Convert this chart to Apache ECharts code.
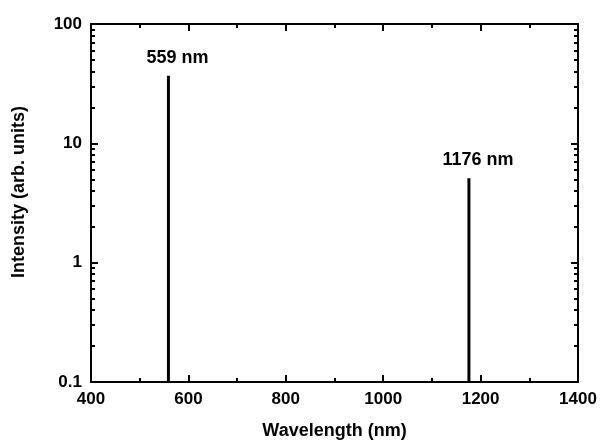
<!DOCTYPE html>
<html><head><meta charset="utf-8">
<script src="https://cdn.jsdelivr.net/npm/echarts@6/dist/echarts.min.js"></script>
<style>html,body{margin:0;padding:0;background:#fff}#c{width:600px;height:441px}</style>
</head><body><div id="c"></div>
<script>
const wavelengths = [559, 1176];
const intensities = [36.8, 5.1];
const peakLabels = ['559 nm', '1176 nm'];
const baseline = 0.1;
const xMin = 400, xMax = 1400, xInterval = 200;
const yTicks = [0.1, 1, 10, 100];
const yMinorTicks = [0.2,0.3,0.4,0.5,0.6,0.7,0.8,0.9,2,3,4,5,6,7,8,9,20,30,40,50,60,70,80,90];
const xName = 'Wavelength (nm)';
const yName = 'Intensity (arb. units)';

const FONT = "'Liberation Sans', Arial, Helvetica, sans-serif";
const lineStyle = {color:'#000', width:2};
const series = wavelengths.map((w, i) => ({
  type: 'line',
  xAxisIndex: 0, yAxisIndex: 0,
  showSymbol: true, symbol: 'circle', symbolSize: 0,
  lineStyle: {color:'#000', width:3},
  itemStyle: {color:'#000'},
  silent: true,
  animation: false,
  data: [
    {value: [w, baseline], label: {show: false}},
    {value: [w, intensities[i]], label: {
      show: true, formatter: peakLabels[i], position: 'top', offset: [9, -4],
      color: '#000', fontFamily: FONT, fontWeight: 'bold', fontSize: 18
    }}
  ]
}));

function xAx(pos, showLabel) {
  return {
    type: 'value', position: pos, min: xMin, max: xMax, interval: xInterval,
    axisLine: {show: true, onZero: false, lineStyle},
    axisTick: {show: true, inside: true, length: 7, lineStyle},
    minorTick: {show: true, splitNumber: 2, length: 4, lineStyle},
    splitLine: {show: false}, minorSplitLine: {show: false},
    axisLabel: {show: showLabel, color:'#000', fontFamily: FONT, fontWeight:'bold', fontSize: 17, margin: 9,
      formatter: v => String(v)},
    name: showLabel ? xName : '', nameLocation: 'middle', nameGap: 40,
    nameTextStyle: {color:'#000', fontFamily: FONT, fontWeight:'bold', fontSize: 18}
  };
}
function yAx(pos, minor, showLabel) {
  return {
    type: 'log', logBase: 10, position: pos, min: 0.1, max: 100,
    axisLine: {show: !minor, onZero: false, lineStyle},
    axisTick: minor ? {show: true, inside: true, length: 4, lineStyle, customValues: yMinorTicks}
                    : {show: true, inside: true, length: 7, lineStyle, customValues: yTicks},
    splitLine: {show: false},
    axisLabel: {show: showLabel, customValues: yTicks, color:'#000', fontFamily: FONT, fontWeight:'bold', fontSize: 17, margin: 9,
      formatter: v => String(+(+v).toPrecision(3))},
    name: showLabel ? yName : '', nameLocation: 'middle', nameGap: 63, nameRotate: 90,
    nameTextStyle: {color:'#000', fontFamily: FONT, fontWeight:'bold', fontSize: 18, padding: [0,0,0,22]}
  };
}

const chart = echarts.init(document.getElementById('c'), null, {renderer: 'canvas'});
chart.setOption({
  backgroundColor: '#fff',
  animation: false,
  grid: {left: 91, right: 22, top: 24, bottom: 59, containLabel: false, outerBoundsMode: 'none'},
  xAxis: [xAx('bottom', true), xAx('top', false)],
  yAxis: [yAx('left', false, true), yAx('left', true, false), yAx('right', false, false), yAx('right', true, false)],
  series: series
});
</script></body></html>
